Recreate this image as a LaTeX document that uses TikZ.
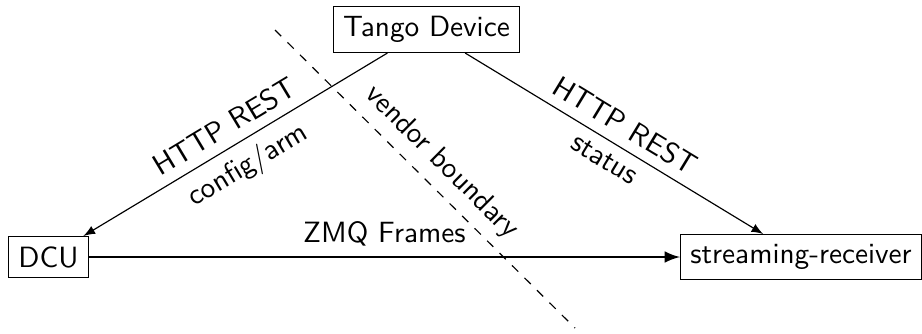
\documentclass[tikz,border=0pt]{standalone}
\begin{document}
\begin{tikzpicture}[x=0.012cm,y=-0.012cm,
  every node/.style={font=\sffamily},
  box/.style={draw, inner sep=3.33pt},
  lbl/.style={sloped}]
\useasboundingbox (0,0) rectangle (922,333);
\node[box] (tango) at (426.5,29.5) {Tango Device};
\node[box] (dcu) at (48.5,257) {DCU};
\node[box] (sr) at (801,257) {streaming-receiver};
\coordinate (vb1) at (275,30);
\coordinate (vb2) at (575,328);
\draw[-latex] (tango) -- node[lbl,above]{HTTP REST} node[lbl,below]{config/arm} (dcu);
\draw[-latex] (tango) -- node[lbl,above]{HTTP REST} node[lbl,below]{status} (sr);
\draw[thick,-latex] (dcu) -- node[above]{ZMQ Frames} (sr);
\draw[dashed] (vb1) -- node[lbl,above]{vendor boundary} (vb2);
\end{tikzpicture}
\end{document}
